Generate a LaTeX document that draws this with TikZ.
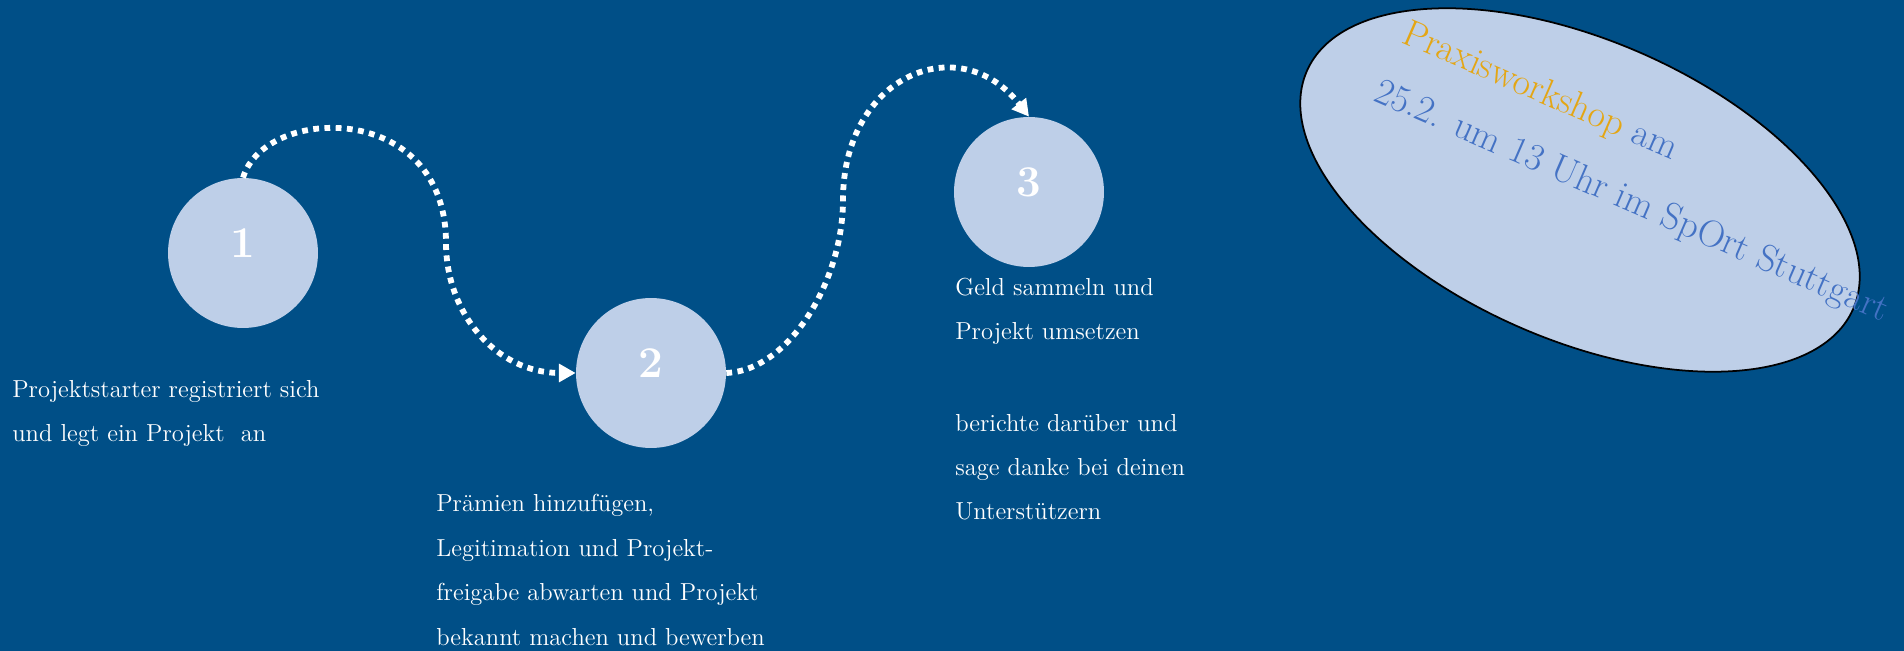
\documentclass[tikz,border=0pt]{standalone}
\usetikzlibrary{arrows.meta,shapes.geometric}

\definecolor{deepblue}{RGB}{0,79,135}
\definecolor{paleblue}{RGB}{190,207,232}
\definecolor{sunorange}{RGB}{228,166,20}
\definecolor{textblue}{RGB}{68,114,196}

\tikzset{
    stepcircle/.style={circle, fill=paleblue, minimum size=3cm, inner sep=0pt, text=white, text depth=11pt, font=\bfseries\fontsize{25}{25}\selectfont},
    steptext/.style={text=white, anchor=base west, align=left, inner sep=0pt, font=\fontsize{14}{25.3}\selectfont},
    dotflow/.style={white, line width=3.3pt, dash pattern=on 3.3pt off 3.1pt, -{Triangle[length=9.5pt,width=10pt]}},
    noteline/.style={text=textblue, anchor=base west, inner sep=0pt, rotate=-23.5, font=\fontsize{21.5}{21.5}\selectfont}
}

\begin{document}
\begin{tikzpicture}[x=0.02cm, y=-0.02cm]
        %background, size of the page
        \useasboundingbox (0,0) rectangle (1904,651);
        \fill[deepblue] (0,0) rectangle (1904,651);

        %the three steps
        \node[stepcircle] (one) at (243,253) {1};
        \node[stepcircle] (two) at (651,373) {2};
        \node[stepcircle] (three) at (1029,192) {3};

        \coordinate (bend1) at (446,243);
        \coordinate (bend2) at (843,200);
        \draw[dotflow] (one.north) .. controls (265,105) and (446,100) .. (bend1)
                .. controls (446,313) and (496,373) .. (two.west);
        \draw[dotflow] (two.east) .. controls (790,370) and (843,280) .. (bend2)
                .. controls (843,75) and (960,28) .. (three.north);

        %texts below the steps (anchor is the last line)
        \node[steptext] (text1) at (12,442) {Projektstarter registriert sich\\und legt ein Projekt \ an};
        \node[steptext] (text2) at (436,645) {Prämien hinzufügen,\\Legitimation und Projekt-\\freigabe abwarten und Projekt\\bekannt machen und bewerben};
        \node[steptext] (text3) at (955,340) {Geld sammeln und\\Projekt umsetzen};
        \node[steptext] (text4) at (955,520) {berichte darüber und\\sage danke bei deinen\\Unterstützern};

        %the workshop bubble
        \node[ellipse, draw=black, line width=1pt, fill=paleblue, minimum width=11.92cm, minimum height=6cm, rotate=-23.5] (bubble) at (1580,190) {};
        \node[noteline] (workshop) at (1400,42) {{\color{sunorange}Praxisworkshop} am};
        \node[noteline] (termin) at (1372,100) {25.2. um 13 Uhr im SpOrt Stuttgart};
\end{tikzpicture}
\end{document}
